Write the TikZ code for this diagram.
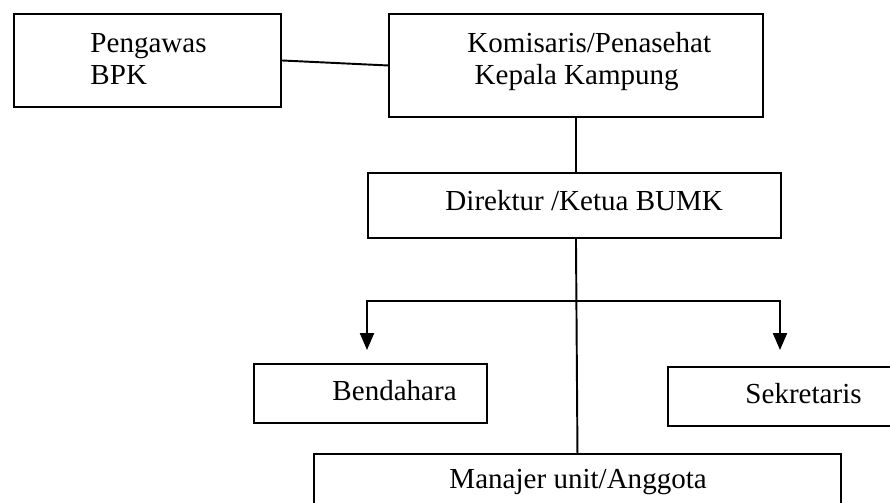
\documentclass[tikz,border=0pt]{standalone}
\usepackage{fontspec}
\setmainfont{Liberation Serif}
\usepackage{tikz}
\usetikzlibrary{arrows.meta,positioning}
\newcommand{\pxu}{0.4132pt}
\tikzset{
  orgbox/.style={draw, line width=0.8pt, inner sep=0pt, anchor=north west},
  orgtext/.style={inner sep=0pt, anchor=base west, align=left,
                  font=\fontsize{12}{13}\selectfont},
  link/.style={line width=0.8pt}
}

\begin{document}
\begin{tikzpicture}[x=0.4132pt, y=-0.4132pt, >={Triangle[length=7pt,width=5.8pt]}]
\clip (0,0) rectangle (890,502);
% boxes
\node[orgbox, minimum width=267*\pxu, minimum height=93*\pxu] (bpk) at (13,13) {};
\node[orgbox, minimum width=374*\pxu, minimum height=103*\pxu] (kom) at (388,13) {};
\node[orgbox, minimum width=413*\pxu, minimum height=65*\pxu] (dir) at (367,172) {};
\node[orgbox, minimum width=233*\pxu, minimum height=59*\pxu] (ben) at (253,363) {};
\node[orgbox, minimum width=232*\pxu, minimum height=59*\pxu] (sek) at (667,366) {};
\node[orgbox, minimum width=527*\pxu, minimum height=80*\pxu] (man) at (313,453) {};
% texts (base = last line)
\node[orgtext] (bpktext) at (90,84) {Pengawas\\BPK};
\node[orgtext] (komtext) at (467,84) {Komisaris/Penasehat\\\hspace*{3pt}Kepala Kampung};
\node[orgtext] (dirtext) at (445,210) {Direktur /Ketua BUMK};
\node[orgtext] (bentext) at (332,400) {Bendahara};
\node[orgtext] (sektext) at (745,403) {Sekretaris};
\node[orgtext] (mantext) at (449,488) {Manajer unit/Anggota};
% connectors
\coordinate (fork) at (575,301);
\coordinate (benin) at (367,350);
\coordinate (sekin) at (780,350);
\draw[link] (bpk.east) -- (kom.west);
\draw[link] (kom.south) -- (kom.south |- dir.north);
\draw[link] (kom.south |- dir.south) -- (man.north);
\draw[link, ->] (fork) -| (benin);
\draw[link, ->] (fork) -| (sekin);
\end{tikzpicture}
\end{document}
